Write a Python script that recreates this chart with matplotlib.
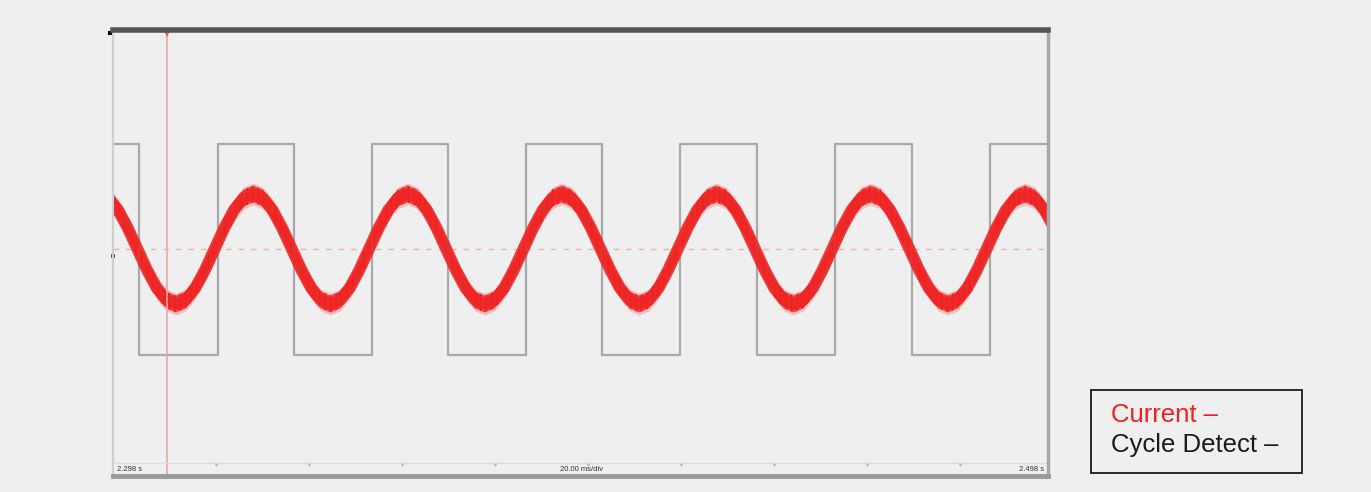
import numpy as np
import matplotlib.pyplot as plt

plt.rcParams['font.family'] = ['Liberation Sans', 'DejaVu Sans']
plt.rcParams['hatch.linewidth'] = 0.8

# time axis: ms after 2.298 s, 20 ms/div
t_start_label = '2.298 s'
t_end_label = '2.498 s'
div_label = '20.00 ms/div'
div_ticks = [20, 40, 60, 80, 100, 120, 140, 160, 180]

# Cycle Detect: square wave edge times (ms) and levels (div)
cd_edges = [3.5, 20.4, 36.8, 53.5, 69.9, 86.7, 103.0, 119.8, 136.3, 153.1, 169.7, 186.5]
cd_high = 2.10
cd_low = -2.12
cd_first = 'high'

# Current: samples every 2.075 ms starting at -5.2 ms (div)
cur_t0 = -5.2
cur_dt = 2.075
current = [
    1.10, 1.02, 0.78, 0.42, 0.00, -0.42, -0.78, -1.02, -1.10, -1.02, -0.78, -0.42, 0.00, 0.42, 0.78, 1.02,
    1.10, 1.02, 0.78, 0.42, 0.00, -0.42, -0.78, -1.02, -1.10, -1.02, -0.78, -0.42, 0.00, 0.42, 0.78, 1.02,
    1.10, 1.02, 0.78, 0.42, 0.00, -0.42, -0.78, -1.02, -1.10, -1.02, -0.78, -0.42, 0.00, 0.42, 0.78, 1.02,
    1.10, 1.02, 0.78, 0.42, 0.00, -0.42, -0.78, -1.02, -1.10, -1.02, -0.78, -0.42, 0.00, 0.42, 0.78, 1.02,
    1.10, 1.02, 0.78, 0.42, 0.00, -0.42, -0.78, -1.02, -1.10, -1.02, -0.78, -0.42, 0.00, 0.42, 0.78, 1.02,
    1.10, 1.02, 0.78, 0.42, 0.00, -0.42, -0.78, -1.02, -1.10, -1.02, -0.78, -0.42, 0.00, 0.42, 0.78, 1.02,
    1.10, 1.02, 0.78, 0.42, 0.00,
]
ripple = 0.17
cursor_t = 9.5

legend_labels = ['Current \u2013', 'Cycle Detect \u2013']
legend_colors = ['#f02020', '#1a1a1a']

bg = '#efefef'
xmin, xmax = -2.15, 198.9
ymin, ymax = -4.54, 4.38

fig = plt.figure(figsize=(13.71, 4.92), dpi=100, facecolor=bg)
ax = fig.add_axes([113 / 1371, 1 - 476 / 492, 935 / 1371, 446 / 492])
ax.set_facecolor(bg)
ax.set_xlim(xmin, xmax)
ax.set_ylim(ymin, ymax)
ax.set_xticks([])
ax.set_yticks([])

# frame like the scope screen
ax.spines['top'].set_color('#555555')
ax.spines['top'].set_linewidth(4)
ax.spines['bottom'].set_color('#9a9a9a')
ax.spines['bottom'].set_linewidth(3.5)
ax.spines['right'].set_color('#a8a8a8')
ax.spines['right'].set_linewidth(2.5)
ax.spines['left'].set_color('#cfcfcf')
ax.spines['left'].set_linewidth(1.5)
ax.plot([xmin - 0.6], [ymax - 0.05], marker='s', ms=3.5, color='black', mew=0, clip_on=False)

# square wave
sx = [xmin]
level = cd_high if cd_first == 'high' else cd_low
sy = [level]
for e in cd_edges:
    sx += [e, e]
    nxt = cd_low if level == cd_high else cd_high
    sy += [level, nxt]
    level = nxt
sx.append(xmax)
sy.append(level)
ax.plot(sx, sy, color='#a9a9a9', lw=1.6)

# zero line
ax.axhline(0, color='#ecb0b0', lw=1, ls=(0, (4, 5)))
ax.plot([xmin], [-0.14], marker='s', ms=2.5, color='#555555', mew=0, clip_on=False)

# current band: thick stroke + vertical ripple envelope
t = cur_t0 + cur_dt * np.arange(len(current))
cur = np.array(current)
ax.fill_between(t, cur - ripple - 0.05, cur + ripple + 0.05, color='#f46a6a', alpha=0.35, lw=0)
ax.plot(t, cur, color='#ee2424', lw=8.5, solid_joinstyle='round', alpha=0.9)
ax.fill_between(t, cur - ripple, cur + ripple, facecolor='#f03030', edgecolor='#dc0c0c',
                hatch='|||', lw=0, alpha=0.85)

# cursor
ax.axvline(cursor_t, color='#f2a4a4', lw=1.2)
ax.plot([cursor_t], [ymax - 0.08], marker='v', ms=4, color='#e06060', mew=0, clip_on=False)

# bottom scale strip
y_strip = -4.28
ax.axhline(y_strip, color='#dcdcdc', lw=1)
ax.plot(div_ticks, [y_strip - 0.03] * len(div_ticks), ls='none', marker='v', ms=2.5,
        color='#b8b8b8', mew=0)
ax.text(-1.3, -4.41, t_start_label, fontsize=5.5, color='#333333', va='center', ha='left')
ax.text(98.5, -4.41, div_label, fontsize=5.5, color='#333333', va='center', ha='center')
ax.text(198.0, -4.41, t_end_label, fontsize=5.5, color='#333333', va='center', ha='right')

# legend box
fig.patches.append(plt.Rectangle((1091 / 1371, 1 - 473 / 492), 211 / 1371, 83 / 492,
                                 transform=fig.transFigure, fill=False, ec='#1a1a1a', lw=1.3))
fig.text(1111 / 1371, 1 - 415 / 492, legend_labels[0], color=legend_colors[0], fontsize=18.5, va='center')
fig.text(1111 / 1371, 1 - 445 / 492, legend_labels[1], color=legend_colors[1], fontsize=18.5, va='center')

fig.savefig('out.png', dpi=100, facecolor=bg)
